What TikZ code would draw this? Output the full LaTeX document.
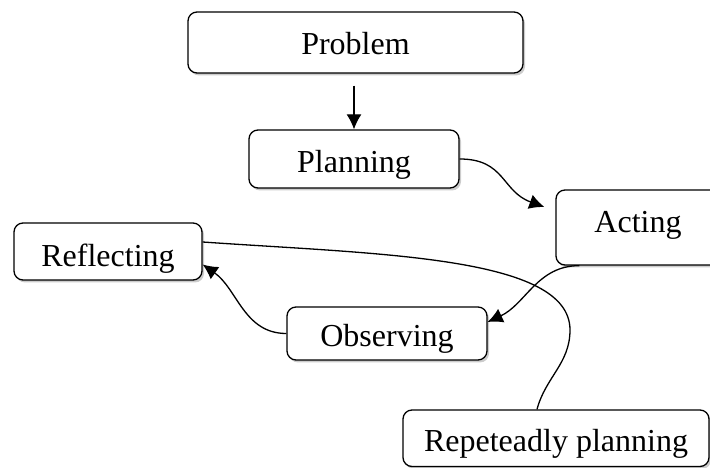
\documentclass[tikz,border=0pt]{standalone}
\usepackage{fontspec}
\setmainfont{Liberation Serif}
\usetikzlibrary{arrows.meta,shadows}
\begin{document}
\begin{tikzpicture}[x=1pt,y=1pt,
  stage/.style={draw,line width=1.3pt,rounded corners=9pt,fill=white,
    drop shadow={shadow xshift=2pt,shadow yshift=-2.5pt,fill=black!40},
    font=\fontsize{32}{38}\selectfont,text depth=0pt,inner sep=0pt},
  flow/.style={line width=1.3pt,-{Latex[length=15pt,width=15pt]}}]
  \useasboundingbox (0,0) rectangle (710,468);
  \node[stage,minimum width=335pt,minimum height=61pt,text height=25pt] (problem) at (355.5,425.5) {Problem};
  \node[stage,minimum width=210pt,minimum height=58pt,text height=28pt] (planning) at (354,309) {Planning};
  \node[stage,minimum width=164pt,minimum height=75pt,text height=11pt] (acting) at (638,240.5) {Acting};
  \node[stage,minimum width=188pt,minimum height=57pt,text height=31pt] (reflecting) at (108,216.5) {Reflecting};
  \node[stage,minimum width=200pt,minimum height=53pt,text height=27pt] (observing) at (387,134.5) {Observing};
  \node[stage,minimum width=306pt,minimum height=56.5pt,text height=27pt] (repeat) at (556,29.75) {Repeteadly planning};
  \draw[flow] ([yshift=-12pt]problem.south -| planning.north) -- (planning.north);
  \draw[flow] (planning.east) to[out=0,in=160,looseness=1.2] ([shift={(-11pt,20.5pt)}]acting.west);
  \draw[flow] ([xshift=24pt]acting.south west) to[out=180,in=25] ([yshift=11.5pt]observing.east);
  \draw[flow] (observing.west) to[out=180,in=-35] ([yshift=-13pt]reflecting.east);
  \draw[line width=1.3pt] ([yshift=9.5pt]reflecting.east) to[out=-4,in=90,out looseness=1.2,in looseness=0.5] (570,138)
    to[out=-90,in=75] ([xshift=-19pt]repeat.north);
\end{tikzpicture}
\end{document}
